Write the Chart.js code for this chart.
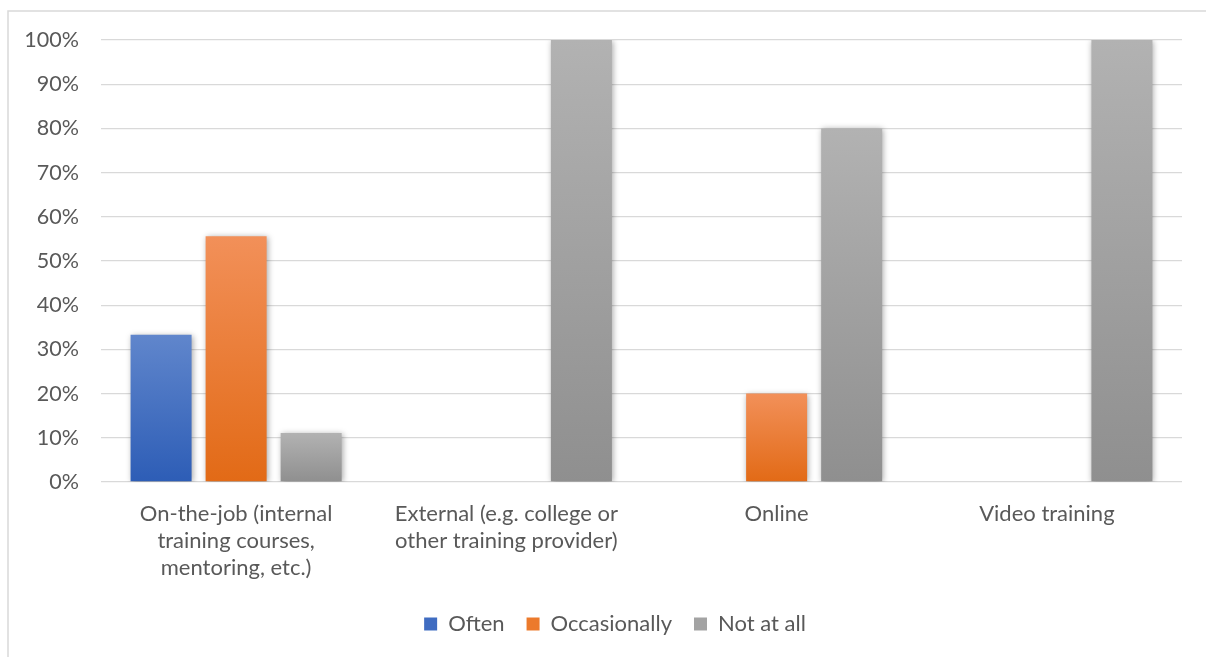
<!DOCTYPE html>
<html>
<head>
<meta charset="utf-8">
<script src="https://cdn.jsdelivr.net/npm/chart.js@4/dist/chart.umd.min.js"></script>
<style>
  html, body { margin: 0; padding: 0; background: #ffffff; }
  #wrap { position: relative; width: 1206px; height: 657px; }
</style>
</head>
<body>
<div id="wrap"><canvas id="chart" width="1206" height="657"></canvas></div>
<script>
// Training methods used, share of respondents per answer
const categories = [
  ["On-the-job (internal", "training courses,", "mentoring, etc.)"],
  ["External (e.g. college or", "other training provider)"],
  "Online",
  "Video training"
];
const seriesNames = ["Often", "Occasionally", "Not at all"];
const often = [33.3, 0, 0, 0];
const occasionally = [55.6, 0, 20, 0];
const notAtAll = [11.1, 100, 80, 100];
const yTicks = [0, 10, 20, 30, 40, 50, 60, 70, 80, 90, 100];

// top / bottom colours of each series' vertical gradient
const shades = [
  { top: "#6086cc", bottom: "#2d5db6", mid: "#3f6cc1" },
  { top: "#f29059", bottom: "#e26a16", mid: "#ec7a2c" },
  { top: "#b2b2b2", bottom: "#8f8f8f", mid: "#a3a3a3" }
];

const FONT = "Lato, 'Noto Sans', sans-serif";

function barGradient(idx) {
  return function (ctx) {
    const chart = ctx.chart;
    const area = chart.chartArea;
    if (!area || ctx.type !== "data") return shades[idx].mid;
    const y = chart.scales.y;
    const v = ctx.raw || 0;
    const yTop = y.getPixelForValue(v);
    const yBot = y.getPixelForValue(0);
    if (Math.abs(yBot - yTop) < 1) return shades[idx].mid;
    const g = chart.ctx.createLinearGradient(0, yTop, 0, yBot);
    g.addColorStop(0, shades[idx].top);
    g.addColorStop(1, shades[idx].bottom);
    return g;
  };
}

// outer chart frame (left and top edges)
const framePlugin = {
  id: "frame",
  beforeDraw(chart) {
    const c = chart.ctx;
    c.save();
    c.strokeStyle = "#d9d9d9";
    c.lineWidth = 1.5;
    c.beginPath();
    c.moveTo(8, 657);
    c.lineTo(8, 11);
    c.lineTo(1206, 11);
    c.stroke();
    c.restore();
  }
};

// nudge the legend row a little to the right
const legendShift = {
  id: "legendShift",
  afterLayout(chart) {
    if (chart.legend) {
      chart.legend.left += 24;
      chart.legend.right += 24;
    }
  }
};

// soft shadow behind the bars
const shadowPlugin = {
  id: "barShadow",
  beforeDatasetsDraw(chart) {
    const c = chart.ctx;
    c.save();
    c.shadowColor = "rgba(0,0,0,0.35)";
    c.shadowBlur = 6;
    c.shadowOffsetX = 1;
    c.shadowOffsetY = 1;
  },
  afterDatasetsDraw(chart) {
    chart.ctx.restore();
  }
};

const values = [often, occasionally, notAtAll];

new Chart(document.getElementById("chart"), {
  type: "bar",
  data: {
    labels: categories,
    datasets: seriesNames.map((name, i) => ({
      label: name,
      data: values[i],
      backgroundColor: barGradient(i),
      borderWidth: 0,
      categoryPercentage: 0.833,
      barPercentage: 0.813
    }))
  },
  options: {
    responsive: false,
    animation: false,
    devicePixelRatio: 1,
    layout: { padding: { top: 40, right: 24, bottom: 12, left: 0 } },
    plugins: {
      tooltip: { enabled: false },
      legend: {
        position: "bottom",
        labels: {
          font: { family: FONT, size: 22 },
          color: "#595959",
          boxWidth: 13,
          boxHeight: 13,
          padding: 22,
          generateLabels(chart) {
            return chart.data.datasets.map((ds, i) => ({
              text: ds.label,
              fillStyle: shades[i].mid,
              strokeStyle: shades[i].mid,
              lineWidth: 0,
              fontColor: "#595959",
              datasetIndex: i,
              hidden: false
            }));
          }
        }
      }
    },
    scales: {
      x: {
        grid: { display: false, drawTicks: false },
        border: { display: false },
        ticks: {
          color: "#595959",
          font: { family: FONT, size: 22, lineHeight: 1.23 },
          padding: 18,
          maxRotation: 0,
          autoSkip: false
        },
        afterFit(scale) { scale.height = 109; }
      },
      y: {
        min: 0,
        max: 100,
        afterBuildTicks(scale) { scale.ticks = yTicks.map(v => ({ value: v })); },
        grid: { color: "#d9d9d9", lineWidth: 1.3, drawTicks: false },
        border: { display: false },
        ticks: {
          color: "#595959",
          font: { family: FONT, size: 21.5 },
          padding: 22,
          callback: v => v + "%"
        },
        afterFit(scale) { scale.width = 101; }
      }
    }
  },
  plugins: [framePlugin, legendShift, shadowPlugin]
});
</script>
</body>
</html>
